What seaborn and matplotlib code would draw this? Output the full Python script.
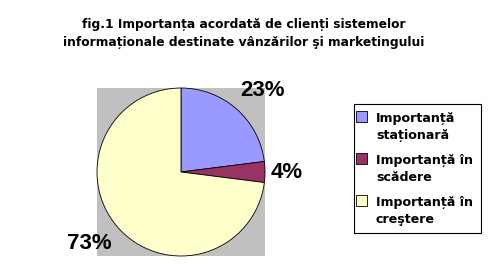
import matplotlib
matplotlib.use("Agg")
import matplotlib.pyplot as plt
import seaborn as sns
import numpy as np
from matplotlib.patches import Rectangle
from matplotlib.legend_handler import HandlerPatch

categories = ["Importanță\nstaționară", "Importanță în\nscădere", "Importanță în\ncreştere"]
values = [23, 4, 73]
colors = ["#9999FF", "#993366", "#FFFFCC"]
title = "fig.1 Importanța acordată de clienți sistemelor\ninformaționale destinate vânzărilor şi marketingului"

sns.set_theme(style="white")
plt.rcParams['font.family'] = ['DejaVu Sans']
plt.rcParams['text.color'] = 'black'

fig = plt.figure(figsize=(4.89, 2.77), dpi=100)
fig.patch.set_facecolor("white")
ax = fig.add_axes([97/489, 20/277, 168/489, 170/277])
ax.set_facecolor("#C0C0C0")

wedges, texts, autotexts = ax.pie(
    values, colors=colors, startangle=90, counterclock=False,
    autopct=lambda p: f"{p:.0f}%", pctdistance=1.35,
    wedgeprops=dict(edgecolor="black", linewidth=0.6),
    textprops=dict(fontsize=16, fontweight="bold",
                   family=["Liberation Sans"], color="black"),
    radius=1.0, frame=True)
ax.set_xlim(-1.0, 1.0)
ax.set_ylim(-1.0, 1.0)
ax.set_xticks([]); ax.set_yticks([])
for s in ax.spines.values():
    s.set_visible(False)

# per-label radial scale factors in x and y (style)
label_rx = [1.47, 1.26, 1.46]
label_ry = [1.30, 1.0, 1.28]
cum = np.cumsum([0] + values)
total = sum(values)
for t, rx, ry, a0, a1 in zip(autotexts, label_rx, label_ry, cum[:-1], cum[1:]):
    mid = np.deg2rad(90 - (a0 + a1) / 2 / total * 360)
    t.set_position((rx * np.cos(mid), ry * np.sin(mid)))

fig.text(0.499, 0.879, title, ha="center", va="center", fontsize=8.8,
         fontweight="bold", linespacing=1.55, color="black")

def sq(legend, orig_handle, xdescent, ydescent, width, height, fontsize):
    s = 0.85 * fontsize
    return Rectangle((-0.44 * fontsize - xdescent, height - s * 0.45 - ydescent + fontsize * 0.38), s, s)

leg = ax.legend(wedges, categories, loc="upper left",
                bbox_to_anchor=(354/489, 1 - 104/277), bbox_transform=fig.transFigure,
                borderaxespad=0, frameon=True, fancybox=False, shadow=False,
                prop=dict(size=9.1, weight="bold"), handlelength=0.8, handleheight=0.9,
                handletextpad=0.34, labelspacing=0.95, borderpad=0.6,
                handler_map={matplotlib.patches.Wedge: HandlerPatch(patch_func=sq)})
leg.get_frame().set_edgecolor("black")
leg.get_frame().set_linewidth(0.8)
leg.get_frame().set_alpha(1)
for t in leg.get_texts():
    t.set_color("black")
    t.set_linespacing(1.4)

fig.savefig("out.png", dpi=100, facecolor="white")
